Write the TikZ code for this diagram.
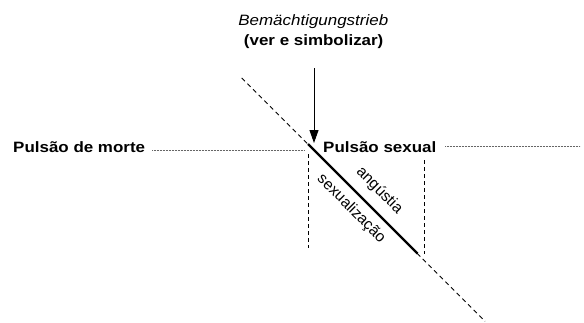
\documentclass[tikz,border=0pt]{standalone}
\usepackage{fontspec}
\setmainfont{Liberation Sans}
\usetikzlibrary{arrows.meta}
\begin{document}
\begin{tikzpicture}[x=1pt,y=1pt,
  lbl/.style={inner sep=0pt, font=\fontsize{15}{18}\selectfont, xscale=1.13},
  rot/.style={inner sep=0pt, font=\fontsize{15.5}{18}\selectfont, rotate=-45, anchor=base},
  dotln/.style={line width=0.5pt, gray!80!black, dash pattern=on 0.6pt off 0.9pt},
  vdash/.style={line width=0.9pt, dash pattern=on 4pt off 3pt},
  ddash/.style={line width=0.9pt, dash pattern=on 4.5pt off 3.5pt},
  thickln/.style={line width=2.4pt},
  arr/.style={line width=0.9pt, -{Triangle[width=9pt,length=13pt]}}]
\useasboundingbox (0,0) rectangle (584,-322);
% labels
\node[lbl, anchor=base, font=\fontsize{15}{18}\selectfont\itshape] (top1) at (313.3,-25) {Bemächtigungstrieb};
\node[lbl, anchor=base, font=\fontsize{15}{18}\selectfont\bfseries] (top2) at (313.7,-45) {(ver e simbolizar)};
\node[lbl, anchor=base west, font=\fontsize{15}{18}\selectfont\bfseries] (morte) at (13,-152.3) {Pulsão de morte};
\node[lbl, anchor=base west, font=\fontsize{15}{18}\selectfont\bfseries] (sexual) at (323,-152.3) {Pulsão sexual};
% coordinates
\coordinate (ldot1) at (152,-150);
\coordinate (ldot2) at (304,-150);
\coordinate (rdot1) at (445,-146);
\coordinate (rdot2) at (580,-146);
\coordinate (astart) at (314,-68);
\coordinate (aend) at (314,-143);
\coordinate (dA) at (241.7,-78);
\coordinate (dB) at (485,-321.3);
\coordinate (sA) at (308,-144);
\coordinate (sB) at (417.5,-253.5);
\coordinate (lv1) at (308.3,-154);
\coordinate (lv2) at (308.3,-248);
\coordinate (rv1) at (424,-160);
\coordinate (rv2) at (424,-254);
% lines
\draw[dotln] (ldot1) -- (ldot2);
\draw[dotln] (rdot1) -- (rdot2);
\draw[ddash] (dA) -- (dB);
\draw[thickln] (sA) -- (sB);
\draw[vdash] (lv1) -- (lv2);
\draw[vdash] (rv1) -- (rv2);
\draw[arr] (astart) -- (aend);
% rotated labels
\node[rot] (ang) at (376.5,-193.5) {angústia};
\node[rot] (sexz) at (348.4,-211.6) {sexualização};
\end{tikzpicture}
\end{document}
